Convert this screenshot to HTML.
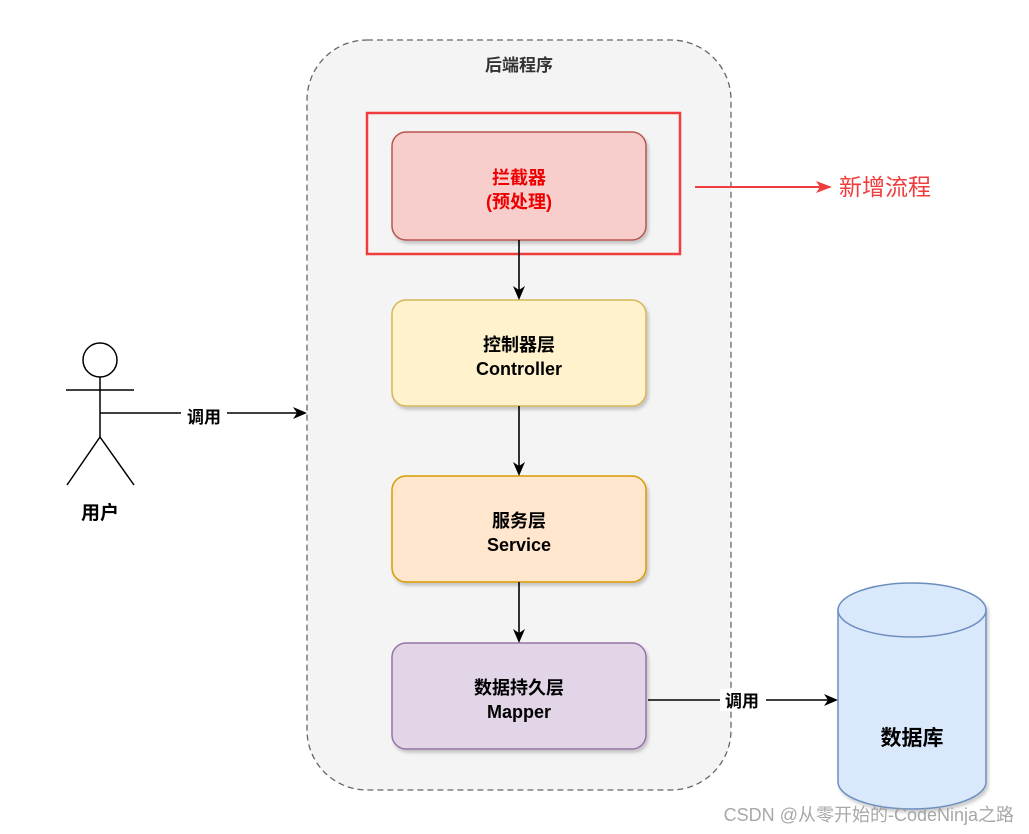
<!DOCTYPE html>
<html><head><meta charset="utf-8"><style>
html,body{margin:0;padding:0;background:#fff;}
svg{display:block;}
text{font-family:"Liberation Sans","Noto Sans CJK SC",sans-serif;}
</style></head><body>
<svg width="1029" height="834" viewBox="0 0 1029 834" xmlns="http://www.w3.org/2000/svg">
<defs>
<marker id="ah" markerWidth="14" markerHeight="14" refX="12" refY="7" orient="auto" markerUnits="userSpaceOnUse"><path d="M0,1 L14,7 L0,13 L4,7 Z" fill="#000"/></marker>
<marker id="ahr" markerWidth="16" markerHeight="12" refX="14" refY="6" orient="auto" markerUnits="userSpaceOnUse"><path d="M0,0 L16,6 L0,12 L4,6 Z" fill="#f03c3c"/></marker>
<filter id="sh" x="-10%" y="-10%" width="130%" height="130%"><feDropShadow dx="2" dy="3" stdDeviation="1.5" flood-color="#000" flood-opacity="0.2"/></filter>
</defs>
<rect x="307" y="40" width="424" height="750" rx="60" fill="#f4f4f4" stroke="#666" stroke-width="1.3" stroke-dasharray="6 4"/>
<text x="519" y="71" font-size="17" font-weight="bold" text-anchor="middle" fill="#333">后端程序</text>
<rect x="367" y="113" width="313" height="141" fill="none" stroke="#f03c3c" stroke-width="2.5"/>
<rect x="392" y="132" width="254" height="108" rx="14" fill="#f8cecc" stroke="#b85450" stroke-width="1.5" filter="url(#sh)"/>
<text x="519" y="184" font-size="18" font-weight="bold" text-anchor="middle" fill="#e00">拦截器</text>
<text x="519" y="208" font-size="18" font-weight="bold" text-anchor="middle" fill="#e00">(预处理)</text>
<rect x="392" y="300" width="254" height="106" rx="14" fill="#fff2cc" stroke="#d6b656" stroke-width="1.5" filter="url(#sh)"/>
<text x="519" y="351" font-size="18" font-weight="bold" text-anchor="middle" fill="#000">控制器层</text>
<text x="519" y="375" font-size="18" font-weight="bold" text-anchor="middle" fill="#000">Controller</text>
<rect x="392" y="476" width="254" height="106" rx="14" fill="#ffe6cc" stroke="#d79b00" stroke-width="1.5" filter="url(#sh)"/>
<text x="519" y="527" font-size="18" font-weight="bold" text-anchor="middle" fill="#000">服务层</text>
<text x="519" y="551" font-size="18" font-weight="bold" text-anchor="middle" fill="#000">Service</text>
<rect x="392" y="643" width="254" height="106" rx="14" fill="#e1d5e7" stroke="#9673a6" stroke-width="1.5" filter="url(#sh)"/>
<text x="519" y="694" font-size="18" font-weight="bold" text-anchor="middle" fill="#000">数据持久层</text>
<text x="519" y="718" font-size="18" font-weight="bold" text-anchor="middle" fill="#000">Mapper</text>
<g stroke="#000" stroke-width="1.6" fill="none">
<line x1="519" y1="240" x2="519" y2="298" marker-end="url(#ah)"/>
<line x1="519" y1="406" x2="519" y2="474" marker-end="url(#ah)"/>
<line x1="519" y1="582" x2="519" y2="641" marker-end="url(#ah)"/>
<line x1="648" y1="700" x2="836" y2="700" marker-end="url(#ah)"/>
<line x1="100" y1="413" x2="305" y2="413" marker-end="url(#ah)"/>
</g>
<rect x="720" y="689" width="46" height="22" fill="#fff"/>
<text x="742" y="707" font-size="17" font-weight="bold" text-anchor="middle">调用</text>
<rect x="181" y="405" width="46" height="22" fill="#fff"/>
<text x="204" y="423" font-size="17" font-weight="bold" text-anchor="middle">调用</text>
<g stroke="#000" stroke-width="1.5" fill="#fff">
<circle cx="100" cy="360" r="17"/>
<line x1="100" y1="377" x2="100" y2="437"/>
<line x1="66" y1="390" x2="134" y2="390"/>
<line x1="100" y1="437" x2="67" y2="485"/>
<line x1="100" y1="437" x2="134" y2="485"/>
</g>
<text x="100" y="519" font-size="19" font-weight="bold" text-anchor="middle">用户</text>
<g filter="url(#sh)">
<path d="M838,610 L838,782 A74,27 0 0 0 986,782 L986,610 Z" fill="#dae8fc" stroke="#6c8ebf" stroke-width="1.5"/>
<ellipse cx="912" cy="610" rx="74" ry="27" fill="#dae8fc" stroke="#6c8ebf" stroke-width="1.5"/>
</g>
<text x="912" y="745" font-size="21" font-weight="bold" text-anchor="middle">数据库</text>
<line x1="695" y1="187" x2="830" y2="187" stroke="#f03c3c" stroke-width="2" marker-end="url(#ahr)"/>
<text x="839" y="195" font-size="23" fill="#f03c3c">新增流程</text>
<text x="1014" y="821" font-size="18" text-anchor="end" fill="#999" opacity="0.85">CSDN @从零开始的-CodeNinja之路</text>
</svg>
</body></html>
